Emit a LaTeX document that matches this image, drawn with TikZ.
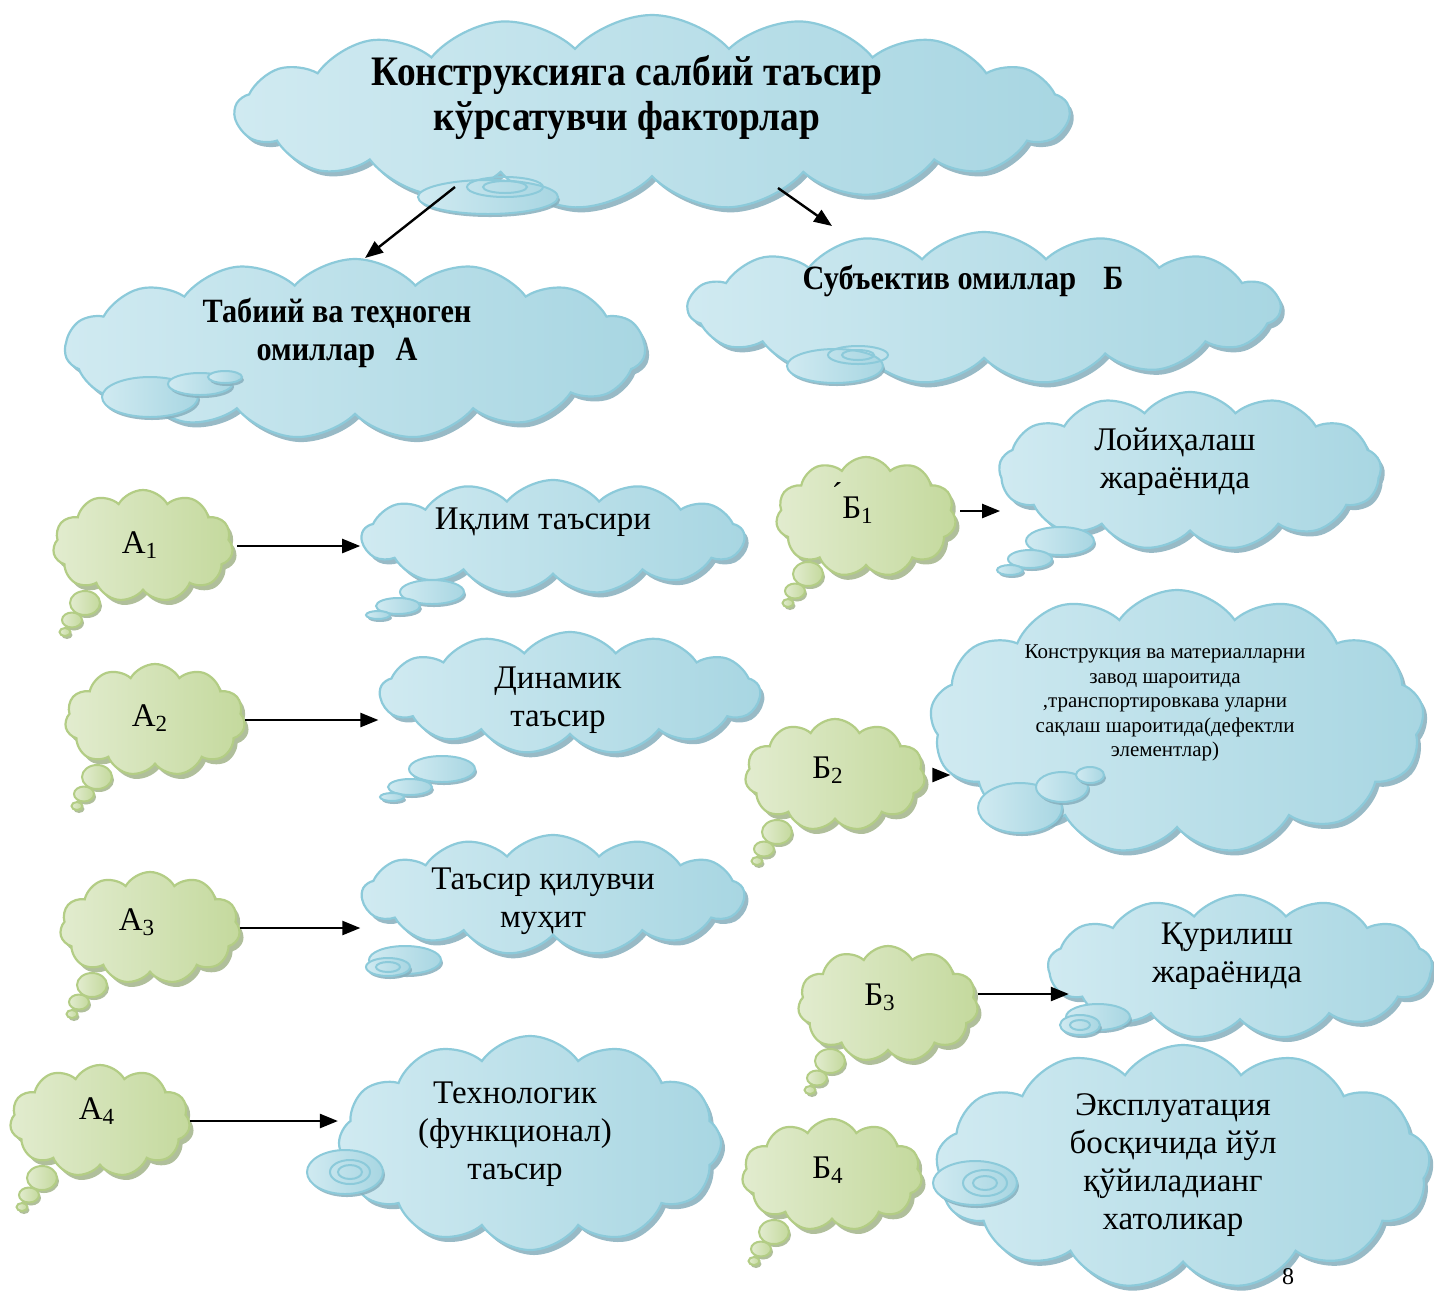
\documentclass[tikz,border=0pt]{standalone}
\usepackage{fontspec}
\setmainfont{Liberation Serif}
\newfontfamily\condbold[FakeStretch=0.89]{Liberation Serif}
\usetikzlibrary{shapes.symbols,shadows,calc,arrows.meta}
\definecolor{bA}{HTML}{D0EAF1}
\definecolor{bM}{HTML}{E2F1F6}
\definecolor{bZ}{HTML}{A8D6E2}
\definecolor{bE}{HTML}{8CCADA}
\definecolor{bS}{HTML}{86AFBD}
\definecolor{gA}{HTML}{E2ECCF}
\definecolor{gM}{HTML}{EEF4E3}
\definecolor{gZ}{HTML}{C4D99D}
\definecolor{gE}{HTML}{B3CD85}
\definecolor{gS}{HTML}{A3B48A}
\tikzset{
  bluecloud/.style={cloud, cloud puffs=13, cloud puff arc=100, cloud ignores aspect,
    inner sep=0pt, draw=bE, line width=1.1pt,
    left color=bA, middle color=bM, right color=bZ,
    drop shadow={shadow xshift=2pt, shadow yshift=-2.5pt, fill=bS, opacity=0.85}},
  greencloud/.style={cloud, cloud puffs=11, cloud puff arc=120, cloud ignores aspect,
    inner sep=0pt, draw=gE, line width=1.1pt,
    left color=gA, middle color=gM, right color=gZ,
    drop shadow={shadow xshift=2pt, shadow yshift=-2.5pt, fill=gS, opacity=0.85},
    minimum width=90pt, minimum height=56pt},
  bbub/.style={draw=bE, line width=1pt, left color=bA, middle color=bM, right color=bZ,
    drop shadow={shadow xshift=1pt, shadow yshift=-1.5pt, fill=bS, opacity=0.85}},
  bring/.style={draw=bE, line width=1pt},
  gbub/.style={draw=gE, line width=1pt, left color=gA, right color=gZ,
    drop shadow={shadow xshift=1pt, shadow yshift=-1.5pt, fill=gS, opacity=0.85}},
  arr/.style={-{Triangle[length=9pt,width=7pt]}, line width=1.2pt},
  txt/.style={align=center, inner sep=0pt, font=\fontsize{16.5}{19}\selectfont},
  btxt/.style={align=center, inner sep=0pt, font=\fontsize{17}{19}\condbold\bfseries},
  ttxt/.style={align=center, inner sep=0pt, font=\fontsize{21}{22.5}\condbold\bfseries},
  stxt/.style={align=center, inner sep=0pt, font=\fontsize{10.5}{12.25}\selectfont},
  lab/.style={inner sep=0pt, font=\fontsize{16.5}{19}\selectfont},
}
\newcommand\gtail[1]{%
  \draw[gbub] ($(#1.center)+(-58,57)$) ellipse [x radius=15, y radius=12];
  \draw[gbub] ($(#1.center)+(-71,74)$) ellipse [x radius=10, y radius=7.5];
  \draw[gbub] ($(#1.center)+(-78,86)$) ellipse [x radius=5.5, y radius=4];
}
\begin{document}
\begin{tikzpicture}[x=0.5pt,y=-0.5pt]
\fill[white] (0,0) rectangle (1434,1292);
\useasboundingbox (0,0) rectangle (1434,1292);

% ---------- top and level-1 clouds ----------
\node[bluecloud, cloud puffs=17, cloud puff arc=95, minimum width=417pt, minimum height=97pt] (main) at (652,112) {};
\node[bluecloud, cloud puffs=15, cloud puff arc=95, minimum width=290pt, minimum height=90pt] (ca) at (355,349) {};
\node[bluecloud, cloud puffs=15, cloud puff arc=95, minimum width=296pt, minimum height=76pt] (cb) at (984,308) {};

\draw[bbub] (488,197) ellipse [x radius=70, y radius=17];
\draw[bring] (505,187) ellipse [x radius=38, y radius=10];
\draw[bring] (505,187) ellipse [x radius=22, y radius=6];

\draw[bbub] (150,397) ellipse [x radius=48, y radius=20];
\draw[bbub] (200,384) ellipse [x radius=32, y radius=11];
\draw[bbub] (225,377) ellipse [x radius=17, y radius=6];

\draw[bbub] (835,366) ellipse [x radius=48, y radius=17];
\draw[bring] (858,355) ellipse [x radius=30, y radius=9];
\draw[bring] (858,355) ellipse [x radius=16, y radius=5];

\node[ttxt] (tmain) at (627,97) {Конструксияга салбий таъсир\\кўрсатувчи факторлар};
\node[btxt] (ta) at (337,333) {Табиий ва теҳноген\\омиллар\hspace{0.6em}А};
\node[btxt] (tb) at (963,281) {Субъектив омиллар\hspace{0.8em}Б};

\draw[arr] ($(main.center)+(-197,75)$) -- ($(ca.center)+(10,-91)$);
\draw[arr] ($(main.center)+(126,76)$) -- ($(cb.center)+(-152,-82)$);

% ---------- blue result clouds ----------
\node[bluecloud, minimum width=191pt, minimum height=57pt] (k1) at (553,537) {};
\node[bluecloud, minimum width=190pt, minimum height=61pt] (k2) at (570,693) {};
\node[bluecloud, minimum width=191pt, minimum height=60pt] (k3) at (553,895) {};
\node[bluecloud, cloud puffs=12, cloud puff arc=110, minimum width=191pt, minimum height=107pt] (k4) at (530,1143) {};
\node[bluecloud, minimum width=191pt, minimum height=79pt] (l1) at (1190,471) {};
\node[bluecloud, cloud puffs=13, cloud puff arc=110, minimum width=247pt, minimum height=132pt] (l2) at (1177,722) {};
\node[bluecloud, minimum width=192pt, minimum height=72pt] (l3) at (1240,967) {};
\node[bluecloud, cloud puffs=13, cloud puff arc=110, minimum width=247pt, minimum height=122pt] (l4) at (1183,1167) {};

\draw[bbub] (432,592) ellipse [x radius=32, y radius=12];
\draw[bbub] (398,606) ellipse [x radius=22, y radius=8];
\draw[bbub] (378,615) ellipse [x radius=12, y radius=4];

\draw[bbub] (442,769) ellipse [x radius=33, y radius=13];
\draw[bbub] (410,787) ellipse [x radius=22, y radius=8];
\draw[bbub] (392,797) ellipse [x radius=12, y radius=4];

\draw[bbub] (405,960) ellipse [x radius=36, y radius=14];
\draw[bbub] (388,967) ellipse [x radius=22, y radius=9];
\draw[bring] (388,967) ellipse [x radius=12, y radius=5];

\draw[bbub] (345,1172) ellipse [x radius=38, y radius=22];
\draw[bring] (350,1172) ellipse [x radius=20, y radius=12];
\draw[bring] (350,1172) ellipse [x radius=12, y radius=7];

\draw[bbub] (1060,541) ellipse [x radius=34, y radius=14];
\draw[bbub] (1030,559) ellipse [x radius=22, y radius=9];
\draw[bbub] (1010,570) ellipse [x radius=13, y radius=5];

\draw[bbub] (1020,808) ellipse [x radius=42, y radius=25];
\draw[bbub] (1062,787) ellipse [x radius=26, y radius=15];
\draw[bbub] (1090,775) ellipse [x radius=14, y radius=8];

\draw[bbub] (1098,1017) ellipse [x radius=32, y radius=13];
\draw[bbub] (1080,1025) ellipse [x radius=20, y radius=10];
\draw[bring] (1080,1025) ellipse [x radius=10, y radius=5];

\draw[bbub] (975,1183) ellipse [x radius=42, y radius=22];
\draw[bring] (985,1183) ellipse [x radius=22, y radius=13];
\draw[bring] (985,1183) ellipse [x radius=12, y radius=7];

\node[txt] (t1) at (543,522) {Иқлим таъсири};
\node[txt] (t2) at (558,700) {Динамик\\таъсир};
\node[txt] (t3) at (543,901) {Таъсир қилувчи\\муҳит};
\node[txt] (t4) at (515,1134) {Технологик\\(функционал)\\таъсир};
\node[txt] (u1) at (1175,462) {Лойиҳалаш\\жараёнида};
\node[stxt] (u2) at (1165,703) {Конструкция ва материалларни\\завод шароитида\\,транспортировкава уларни\\сақлаш шароитида(дефектли\\элементлар)};
\node[txt] (u3) at (1227,956) {Қурилиш\\жараёнида};
\node[txt] (u4) at (1173,1165) {Эксплуатация\\босқичида йўл\\қўйиладианг\\хатоликар};

% ---------- green clouds ----------
\node[greencloud] (a1) at (143,546) {};
\node[greencloud] (a2) at (155,720) {};
\node[greencloud] (a3) at (150,928) {};
\node[greencloud] (a4) at (100,1121) {};
\node[greencloud, minimum height=60pt] (b1) at (866,517) {};
\node[greencloud] (b2) at (835,775) {};
\node[greencloud, minimum height=58pt] (b3) at (888,1004) {};
\node[greencloud] (b4) at (832,1175) {};
\gtail{a1}\gtail{a2}\gtail{a3}\gtail{a4}
\gtail{b1}\gtail{b2}\gtail{b3}\gtail{b4}

\node[lab] (la1) at (140,545) {А\textsubscript{1}};
\node[lab] (la2) at (150,718) {А\textsubscript{2}};
\node[lab] (la3) at (137,922) {А\textsubscript{3}};
\node[lab] (la4) at (97,1111) {А\textsubscript{4}};
\node[lab] (lb1) at (858,510) {Б\textsubscript{1}};
\node[lab] (acc) at (837,494) {´};
\node[lab] (lb2) at (828,770) {Б\textsubscript{2}};
\node[lab] (lb3) at (880,997) {Б\textsubscript{3}};
\node[lab] (lb4) at (828,1170) {Б\textsubscript{4}};

% ---------- arrows ----------
\draw[arr] ([xshift=2pt]a1.east) -- (a1.east -| k1.west);
\draw[arr] (a2.east) -- (a2.east -| k2.west);
\draw[arr] (a3.east) -- (a3.east -| k3.west);
\draw[arr] (a4.east) -- (a4.east -| k4.west);
\draw[arr] ([xshift=2pt,yshift=3pt]b1.east) -- ([xshift=1pt,yshift=3pt]b1.east -| l1.west);
\draw[arr] ([xshift=5pt]b2.east) -- ($(b2.east -| l2.west)+(20,0)$);
\draw[arr] ([yshift=5pt]b3.east) -- ($([yshift=5pt]b3.east -| l3.west)+(22,0)$);

\node[inner sep=0pt, font=\fontsize{12}{14}\selectfont] (pg) at (1288,1277) {8};
\end{tikzpicture}
\end{document}
